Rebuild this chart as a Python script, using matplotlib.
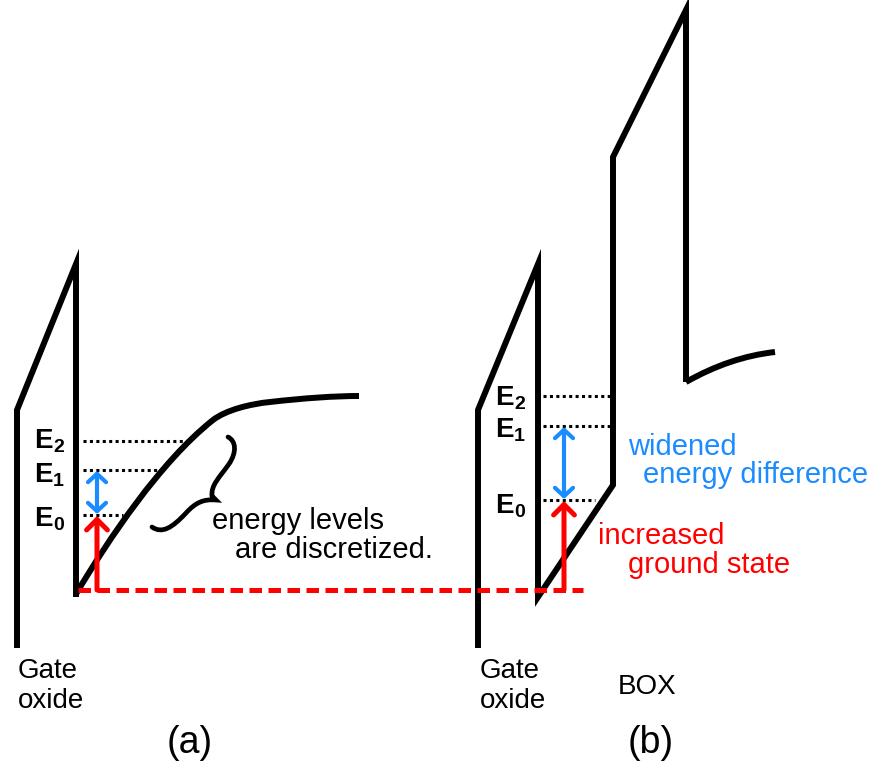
import matplotlib.pyplot as plt
from matplotlib.path import Path
from matplotlib.patches import PathPatch

plt.rcParams['font.family'] = ['Liberation Sans', 'DejaVu Sans']

BLACK = 'black'
BLUE = '#1a8cff'
RED = '#ff0000'

# band outlines, in pixel units (y grows downwards)
band_a = [(17, 648), (17, 410), (76, 264), (76, 597)]
# conduction band of (a) as cubic Bezier segments
curve_a = [(76, 594),
           (108, 540), (160, 462), (213, 420),
           (226, 410), (250, 404), (270, 402),
           (305, 398), (335, 396), (359, 396)]
band_b = [(478, 648), (478, 410), (538, 264), (538, 597), (613, 485),
          (613, 157), (686, 10), (686, 382)]
box_curve = [(686, 382), (730, 357), (775, 352)]

# quantised levels: (subscript, y, x_start, x_end)
levels_a = [('2', 441, 83, 190), ('1', 470, 83, 163), ('0', 515, 83, 123)]
levels_b = [('2', 396, 543, 611), ('1', 426, 543, 611), ('0', 500, 543, 595)]
label_base_a = [448, 482, 526]
label_base_b = [405, 437, 513]
label_x = {'a': 34, 'b': 495}

arrow_x = {'a': 97, 'b': 564}
fermi_y = 590
fermi_x = (78, 583)

# curly brace next to the levels of (a)
brace = [(228, 437),
         (236, 441), (237, 452), (229, 464),
         (219, 478), (211, 485), (212, 496),
         (216, 500),
         (204, 499), (196, 502), (186, 513),
         (172, 528), (162, 534), (152, 527)]
brace_codes = ([Path.MOVETO] + [Path.CURVE4] * 6 + [Path.LINETO] + [Path.CURVE4] * 6)

fig = plt.figure(figsize=(8.76, 7.65), dpi=100)
ax = fig.add_axes([0, 0, 1, 1])
ax.set_xlim(0, 876)
ax.set_ylim(765, 0)
ax.axis('off')

lw = 4.3
line_kw = dict(color=BLACK, lw=lw, solid_joinstyle='miter', solid_capstyle='butt')

# (a) bulk-like well: oxide barrier, then the bent band
pts_a = band_a + curve_a
codes_a = ([Path.MOVETO] + [Path.LINETO] * (len(band_a) - 1)
           + [Path.LINETO] + [Path.CURVE4] * (len(curve_a) - 1))
ax.add_patch(PathPatch(Path(pts_a, codes_a), fill=False, lw=lw, edgecolor=BLACK,
                       joinstyle='miter', capstyle='butt'))

# (b) thin body between gate oxide and BOX
ax.plot([p[0] for p in band_b], [p[1] for p in band_b], **line_kw)
box_path = Path(box_curve, [Path.MOVETO, Path.CURVE3, Path.CURVE3])
ax.add_patch(PathPatch(box_path, fill=False, lw=lw, edgecolor=BLACK, capstyle='butt'))

# energy levels and their labels
for key, levels, bases in (('a', levels_a, label_base_a), ('b', levels_b, label_base_b)):
    lx = label_x[key]
    for (sub, y, x0, x1), yb in zip(levels, bases):
        ax.plot([x0, x1], [y, y], color=BLACK, lw=2.2, linestyle=(0, (1, 1.1)),
                dash_capstyle='butt')
        ax.text(lx, yb, 'E', fontsize=20, fontweight='bold', va='baseline', ha='left')
        ax.text(lx + 19, yb + 4, sub, fontsize=14, fontweight='bold', va='baseline', ha='left')

# red dashed reference line
ax.plot(fermi_x, [fermi_y, fermi_y], color=RED, lw=3.6, linestyle=(0, (2.5, 1.3)),
        dash_capstyle='butt')

# arrows: ground state rise (red) and E0-E1 spacing (blue)
for key, levels in (('a', levels_a), ('b', levels_b)):
    x = arrow_x[key]
    e1 = levels[1][1]
    e0 = levels[2][1]
    ax.annotate('', xy=(x, e0 + 1), xytext=(x, fermi_y),
                arrowprops=dict(arrowstyle='->,head_length=0.75,head_width=0.75',
                                color=RED, lw=3.6, shrinkA=0, shrinkB=0))
    ax.annotate('', xy=(x, e1 + 1), xytext=(x, e0 - 1),
                arrowprops=dict(arrowstyle='<->,head_length=0.6,head_width=0.65',
                                color=BLUE, lw=3.0, shrinkA=0, shrinkB=0))

ax.add_patch(PathPatch(Path(brace, brace_codes), fill=False, lw=3.4, edgecolor=BLACK,
                       capstyle='round', joinstyle='miter'))

txt = dict(fontsize=21, va='baseline', ha='left')
ax.text(212, 529, 'energy levels', color=BLACK, **txt)
ax.text(235, 558, 'are discretized.', color=BLACK, **txt)
ax.text(628, 455, 'widened', color=BLUE, **txt)
ax.text(643, 483, 'energy difference', color=BLUE, **txt)
ax.text(598, 544, 'increased', color=RED, **txt)
ax.text(628, 573, 'ground state', color=RED, **txt)

ax.text(18, 678, 'Gate', fontsize=20, va='baseline')
ax.text(18, 708, 'oxide', fontsize=20, va='baseline')
ax.text(480, 678, 'Gate', fontsize=20, va='baseline')
ax.text(480, 708, 'oxide', fontsize=20, va='baseline')
ax.text(618, 694, 'BOX', fontsize=20, va='baseline')
ax.text(190, 743, '(a)', fontsize=27, ha='center', va='center')
ax.text(651, 743, '(b)', fontsize=27, ha='center', va='center')

fig.savefig('out.png', dpi=100)
